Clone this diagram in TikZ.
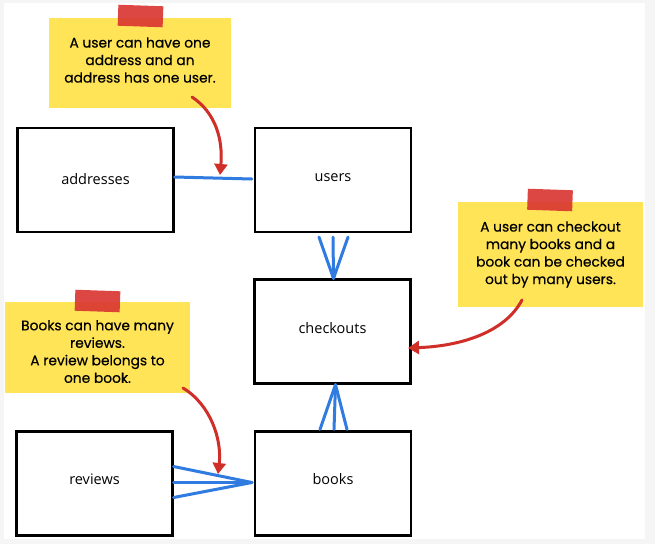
\documentclass[tikz,border=0pt]{standalone}
\usepackage{fontspec}
\setmainfont{Open Sans}
\newfontfamily\notefont[FakeBold=0.4]{Poppins}
\usetikzlibrary{calc,arrows.meta}
\definecolor{bgray}{RGB}{245,245,245}
\definecolor{noteyellow}{RGB}{255,228,88}
\definecolor{tapered}{RGB}{217,52,48}
\definecolor{linkblue}{RGB}{47,123,224}
\definecolor{arrowred}{RGB}{208,46,40}
\newcommand{\shiftup}[2]{\raisebox{#1}[\height][\depth]{#2}}
\tikzset{
  table/.style={draw=black, line width=2.2pt, fill=white, minimum width=156pt, minimum height=104pt, inner sep=0pt, font=\fontsize{14.5}{16}\selectfont},
  note/.style={fill=noteyellow, inner sep=0pt, align=center, font=\notefont\fontsize{13.8}{17.5}\selectfont},
  tape/.style={fill=tapered, fill opacity=0.9, inner sep=0pt, minimum width=45pt, minimum height=21pt},
  rel/.style={draw=linkblue, line width=3pt, line cap=round},
  callout/.style={draw=arrowred, line width=3pt, line cap=round, -{Triangle[length=11pt,width=13pt]}}
}
\begin{document}
\begin{tikzpicture}[x=1pt,y=-1pt]
\useasboundingbox (0,0) rectangle (655,544);
\fill[bgray] (0,0) rectangle (655,544);
\fill[white] (4,3) rectangle (645,539);

% tables
\node[table] (addresses) at (95.5,180) {\shiftup{1pt}{addresses}};
\node[table] (users) at (333,180) {\shiftup{2pt}{users}};
\node[table] (checkouts) at (332.5,331.5) {\shiftup{3pt}{checkouts}};
\node[table] (reviews) at (94.5,483.5) {\shiftup{4pt}{reviews}};
\node[table] (books) at (333,483.5) {\shiftup{4pt}{books}};

% notes
\node[note, minimum width=182pt, minimum height=90pt] (n1) at (140,63) {\shiftup{3pt}{\parbox{180pt}{\centering A user can have one\\address and an\\address has one user.}}};
\node[tape, rotate=-2] (t1) at (140.5,16) {};
\node[note, minimum width=185pt, minimum height=105pt] (n2) at (550.5,254.5) {A user can checkout\\many books and a\\book can be checked\\out by many users.};
\node[tape, rotate=-2] (t2) at (550,200) {};
\node[note, minimum width=185pt, minimum height=91pt] (n3) at (97.5,347.5) {\shiftup{-4pt}{\parbox{183pt}{\centering Books can have many\\reviews.\\A review belongs to\\one book.}}};
\node[tape, rotate=-2] (t3) at (97.5,301) {};

% relations
\draw[rel] ($(addresses.east)+(0,-3)$) -- ($(users.west)+(-2,-1)$);
\coordinate (ck1) at ($(checkouts.north)+(1,0)$);
\draw[rel] ($(users.south)+(-14,4)$) -- (ck1);
\draw[rel] ($(users.south)+(0,4)$) -- (ck1);
\draw[rel] ($(users.south)+(15,4)$) -- (ck1);
\coordinate (ck2) at ($(checkouts.south)+(3,0)$);
\draw[rel] ($(books.north)+(-13,-1)$) -- (ck2);
\draw[rel] ($(books.north)+(1,-1)$) -- (ck2);
\draw[rel] ($(books.north)+(14,-1)$) -- (ck2);
\coordinate (bk) at ($(books.west)+(-2,-1)$);
\draw[rel] ($(reviews.east)+(0,-17)$) -- (bk);
\draw[rel] ($(reviews.east)+(0,-1)$) -- (bk);
\draw[rel] ($(reviews.east)+(0,14)$) -- (bk);

% callouts
\coordinate (a1) at (220,175);
\coordinate (a2) at (408,348);
\coordinate (a3) at (218,474);
\draw[callout] (192,97) .. controls (216,113) and (223,140) .. (a1);
\draw[callout] (522,300) .. controls (505,332) and (462,346) .. (a2);
\draw[callout] (183,388) .. controls (211,405) and (222,440) .. (a3);
\end{tikzpicture}
\end{document}
